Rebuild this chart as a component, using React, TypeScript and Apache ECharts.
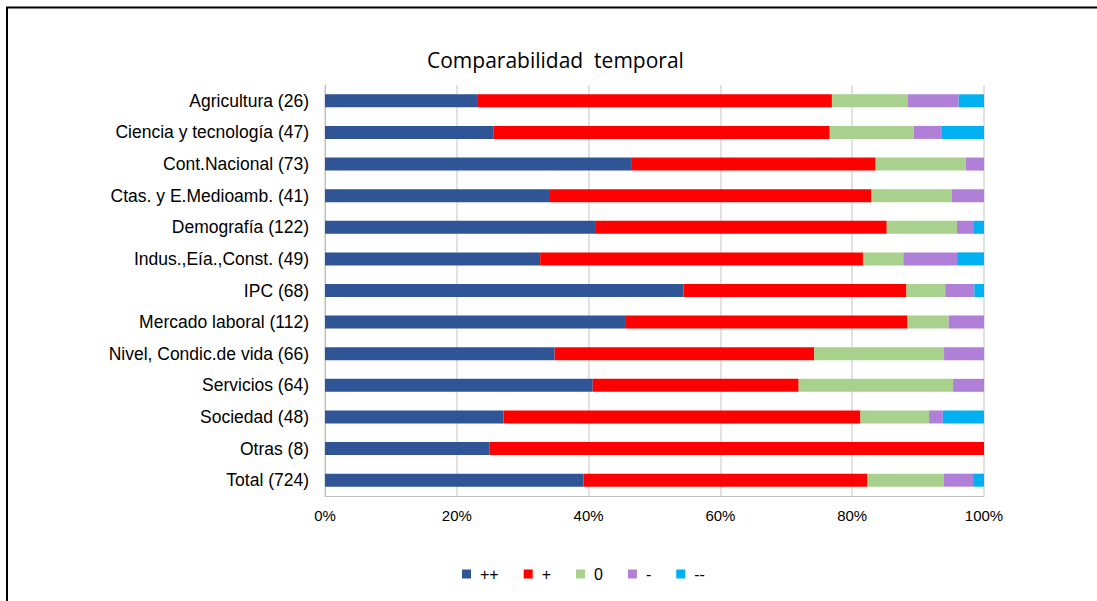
import React, { useEffect, useRef } from "react";
import * as echarts from "echarts";

const categories = [
  "Agricultura (26)",
  "Ciencia y tecnología (47)",
  "Cont.Nacional (73)",
  "Ctas. y E.Medioamb. (41)",
  "Demografía (122)",
  "Indus.,Eía.,Const. (49)",
  "IPC (68)",
  "Mercado laboral (112)",
  "Nivel, Condic.de vida (66)",
  "Servicios (64)",
  "Sociedad (48)",
  "Otras (8)",
  "Total (724)",
];

// counts per category, read from the segment boundaries
const seriesNames = ["++", "+", "0", "-", "--"];
const muyPositivo = [6, 12, 34, 14, 50, 16, 37, 51, 23, 26, 13, 2, 284];
const positivo = [14, 24, 27, 20, 54, 24, 23, 48, 26, 20, 26, 6, 312];
const neutro = [3, 6, 10, 5, 13, 3, 4, 7, 13, 15, 5, 0, 84];
const negativo = [2, 2, 2, 2, 3, 4, 3, 6, 4, 3, 1, 0, 32];
const muyNegativo = [1, 3, 0, 0, 2, 2, 1, 0, 0, 0, 3, 0, 12];

const colors = ["#2F5597", "#FF0000", "#A9D18E", "#B07FD8", "#00B0F0"];
const xTicks = ["0%", "20%", "40%", "60%", "80%", "100%"];

export default function App() {
  const ref = useRef<HTMLDivElement>(null);
  useEffect(() => {
    if (!ref.current) return;
    const chart = echarts.init(ref.current, undefined, { renderer: "svg" });
    const all = [muyPositivo, positivo, neutro, negativo, muyNegativo];
    const totals = categories.map((_, i) => all.reduce((s, arr) => s + arr[i], 0));
    const font = "'Liberation Sans', Arial, sans-serif";
    chart.setOption({
      animation: false,
      title: {
        text: "Comparabilidad  temporal",
        left: 422,
        top: 44,
        textStyle: {
          fontFamily: "'Open Sans', sans-serif",
          fontSize: 21,
          fontWeight: "normal",
          color: "#000",
        },
      },
      legend: {
        data: seriesNames,
        bottom: 14,
        left: 457,
        itemWidth: 9,
        itemHeight: 9,
        itemGap: 25,
        icon: "rect",
        textStyle: { fontFamily: font, fontSize: 16, color: "#000", padding: [0, 0, 0, 4] },
      },
      grid: { left: 325, right: 113, top: 85, bottom: 105, containLabel: false },
      xAxis: {
        type: "value",
        min: 0,
        max: 100,
        interval: 20,
        axisLine: { show: true, lineStyle: { color: "#bfbfbf", width: 1 } },
        axisTick: { show: false },
        splitLine: { show: true, lineStyle: { color: "#d9d9d9", width: 1.5 } },
        axisLabel: {
          margin: 12,
          fontFamily: font,
          fontSize: 15,
          color: "#000",
          formatter: (v: number) => xTicks[Math.round(v / 20)],
        },
      },
      yAxis: {
        type: "category",
        data: categories,
        inverse: true,
        axisLine: { show: true, lineStyle: { color: "#bfbfbf", width: 1 } },
        axisTick: { show: false },
        axisLabel: { margin: 16, fontFamily: font, fontSize: 17.5, color: "#000" },
      },
      series: all.map((arr, k) => ({
        name: seriesNames[k],
        type: "bar",
        stack: "total",
        barWidth: 13,
        itemStyle: { color: colors[k] },
        data: arr.map((v, i) => (v / totals[i]) * 100),
      })),
      graphic: [
        {
          type: "polyline",
          shape: { points: [[7, 610], [7, 7.5], [1110, 7.5]] },
          style: { stroke: "#000", lineWidth: 2, fill: "none" },
        },
      ],
    });
    return () => chart.dispose();
  }, []);
  return (
    <div
      ref={ref}
      style={{ position: "absolute", left: 0, top: 0, width: 1097, height: 601, background: "#fff" }}
    />
  );
}
